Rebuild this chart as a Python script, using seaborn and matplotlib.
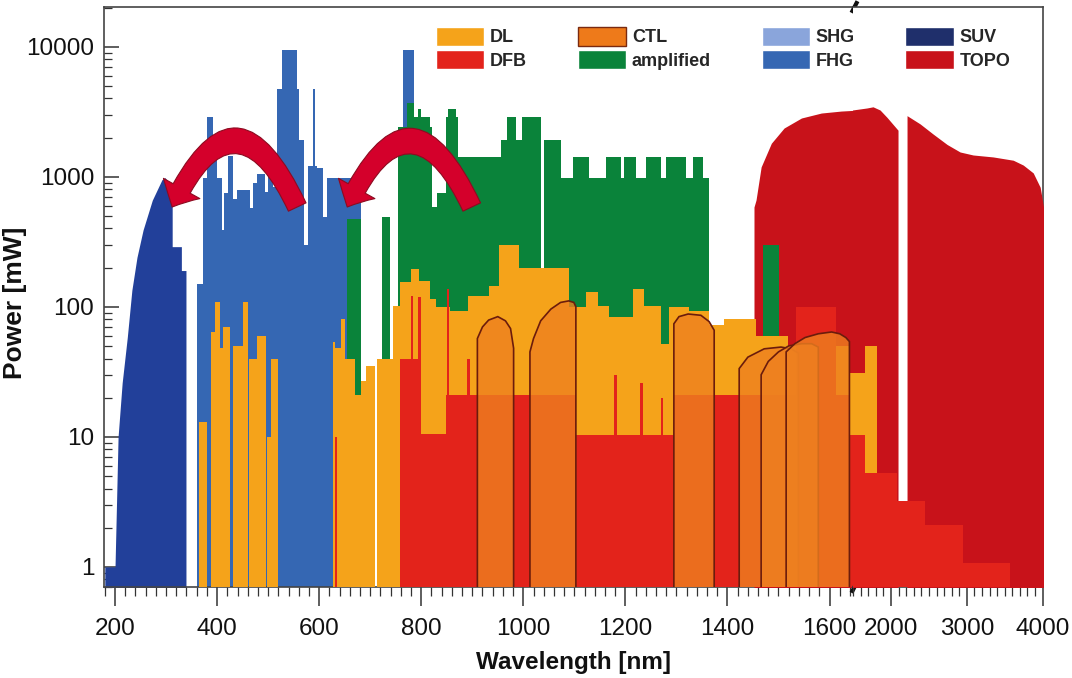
import numpy as np
import matplotlib
matplotlib.use('Agg')
import matplotlib.pyplot as plt
import seaborn as sns
from matplotlib.patches import Patch, FancyArrowPatch
from matplotlib.ticker import FixedLocator, MultipleLocator, NullFormatter, LogLocator, FuncFormatter

sns.set_theme(style='white')
plt.rcParams['font.family'] = ['Liberation Sans', 'DejaVu Sans']

colors = {'DL': '#f5a31a', 'DFB': '#e3231b', 'CTL': '#ee8020', 'amplified': '#0a833a',
          'SHG': '#8aa5db', 'FHG': '#3567b3', 'SUV': '#22409a', 'TOPO': '#c8121a'}
BASE = 0.3  # floor below the visible range

# ---------- left part of the wavelength axis (nm, mW) ----------
suv_wl = [180, 200, 206, 214, 224, 233, 243, 255, 273, 292, 298, 305, 312, 312, 330, 330, 339]
suv_mw = [1.0, 1.0, 10, 26, 58, 134, 240, 390, 660, 950, 985, 900, 690, 290, 290, 190, 190]

fhg_edges = [361, 373, 381, 392, 400, 410, 414, 422, 432, 439, 465, 471, 479, 494, 500,
             510, 518, 528, 557, 561, 571, 579, 587, 591, 596, 608, 616, 681, 765, 785]
fhg_mw = [150, 980, 2900, 1450, 980, 390, 750, 1450, 680, 790, 580, 900, 1050, 760,
          1170, 830, 4700, 9500, 4700, 1900, 300, 1200, 4700, 1200, 1170, 490, 980, 0, 9500]

amp_edges = [655, 681, 724, 738, 755, 773, 785, 793, 799, 818, 822, 830, 848, 853, 869,
             873, 956, 969, 985, 997, 1034, 1040, 1073, 1097, 1128, 1162, 1191, 1197,
             1221, 1240, 1270, 1280, 1319, 1332, 1352, 1364, 1470, 1501]
amp_mw = [470, 0, 490, 0, 2400, 3700, 2900, 3300, 2900, 2400, 590, 750, 2900, 3300, 2900,
          1430, 1900, 2900, 1900, 2900, 0, 1900, 980, 1430, 980, 1430, 980, 1430, 980,
          1430, 980, 1430, 980, 1430, 980, 0, 300]

dl_edges = [364, 380, 388, 396, 406, 412, 426, 432, 451, 461, 463, 479, 496, 498, 506,
            520, 628, 632, 642, 651, 671, 681, 691, 710, 714, 744, 759, 779, 795, 818,
            828, 857, 891, 932, 952, 991, 1089, 1122, 1146, 1168, 1215, 1236, 1270,
            1285, 1325, 1364, 1393, 1456, 1519, 1639, 1660]
dl_mw = [13, 0, 64, 108, 48, 70, 0, 50, 108, 0, 40, 60, 0, 10, 40, 0, 54, 48, 81, 40,
         21, 27, 35, 0, 40, 102, 155, 195, 158, 115, 100, 93, 120, 145, 300, 200, 100,
         130, 102, 84, 137, 102, 52, 100, 92, 72, 81, 60, 50, 31]

dfb_edges = [631, 634, 759, 779, 784, 793, 799, 848, 850, 855, 890, 896, 1103, 1177,
             1183, 1228, 1234, 1270, 1274, 1295, 1535, 1613, 1639, 1660]
dfb_mw = [10, 0, 40, 121, 40, 119, 10.6, 20.8, 137, 20.8, 40, 20.8, 10.3, 30, 10.3, 26,
          10.3, 20, 10.3, 20.8, 100, 20.8, 10.3]

topo_wl = [1452, 1456, 1466, 1486, 1511, 1545, 1584, 1623, 1660]
topo_mw = [585, 662, 1190, 1810, 2370, 2830, 3090, 3200, 3260]

ctl_wl = [[910, 920, 932, 950, 965, 975, 981],
          [1013, 1020, 1034, 1054, 1073, 1089, 1099, 1103],
          [1295, 1305, 1323, 1348, 1364, 1374],
          [1423, 1440, 1472, 1505, 1525, 1539],
          [1466, 1480, 1500, 1520, 1545, 1565, 1578],
          [1515, 1532, 1552, 1578, 1604, 1620, 1632, 1639]]
ctl_mw = [[57, 70, 79, 84, 78, 68, 48],
          [45, 57, 78, 96, 108, 111, 108, 100],
          [74, 84, 88, 86, 77, 66],
          [33.5, 41, 47.5, 49, 47.5, 44],
          [30, 38, 45, 50, 52, 52, 49],
          [45, 52, 58, 62, 64, 62, 58, 54]]

# ---------- right part of the wavelength axis ----------
topo_r_wl = [1490, 1683, 1762, 1855, 1947, 2092]
topo_r_mw = [3260, 3380, 3450, 3260, 2860, 2280]
topo_r2_wl = [2211, 2383, 2555, 2740, 2911, 3083, 3347, 3612, 3744, 3876, 3968, 4012]
topo_r2_mw = [2950, 2550, 2130, 1770, 1550, 1470, 1420, 1340, 1230, 1070, 830, 585]
dl_r_edges = [1490, 1657, 1815]
dl_r_mw = [31, 50]
dfb_r_edges = [1490, 1657, 2079, 2449, 2951, 3572]
dfb_r_mw = [10.3, 5.25, 3.2, 2.1, 1.07]

# arrows (tail, tip) in nm / mW
arrows = [((557, 585), (312, 585)), ((899, 585), (655, 585))]


def steps(ax, edges, levels, color, z):
    lv = np.asarray(levels, dtype=float)
    lv = np.where(lv > 0, lv, BASE)
    ax.stairs(lv, edges, baseline=BASE, fill=True, color=color, lw=0, zorder=z)


def curve(ax, wl, mw, color, z):
    ax.fill_between(wl, mw, BASE, color=color, lw=0, zorder=z)


fig = plt.figure(figsize=(10.72, 6.78), dpi=100)
ax1 = fig.add_axes([104 / 1072, 1 - 587 / 678, (853 - 104) / 1072, 580 / 678])
ax2 = fig.add_axes([853 / 1072, 1 - 587 / 678, (1043 - 853) / 1072, 580 / 678], sharey=ax1)

# left part
curve(ax1, suv_wl, suv_mw, colors['SUV'], 1)
steps(ax1, fhg_edges, fhg_mw, colors['FHG'], 2)
curve(ax1, topo_wl, topo_mw, colors['TOPO'], 3)
steps(ax1, amp_edges, amp_mw, colors['amplified'], 4)
steps(ax1, dl_edges, dl_mw, colors['DL'], 5)
steps(ax1, dfb_edges, dfb_mw, colors['DFB'], 6)
ctl_face = matplotlib.colors.to_rgba(colors['CTL'], 0.8)
for wl, mw in zip(ctl_wl, ctl_mw):
    ax1.fill([wl[0]] + wl + [wl[-1]], [BASE] + mw + [BASE], fc=ctl_face,
             ec='#6b1c0c', lw=1.2, zorder=7)

# right part
curve(ax2, topo_r_wl, topo_r_mw, colors['TOPO'], 3)
curve(ax2, topo_r2_wl, topo_r2_mw, colors['TOPO'], 3)
steps(ax2, dl_r_edges, dl_r_mw, colors['DL'], 5)
steps(ax2, dfb_r_edges, dfb_r_mw, colors['DFB'], 6)

# curved arrows
for tail, tip in arrows:
    arr = FancyArrowPatch(tail, tip, connectionstyle='arc3,rad=1.06',
                          arrowstyle='simple,head_length=1.5,head_width=3.0,tail_width=1.4',
                          mutation_scale=10, fc='#d4002b', ec='#8c0b20', lw=0.8,
                          shrinkA=0, shrinkB=0, zorder=9)
    ax1.add_patch(arr)

# axes
ax1.set_yscale('log')
ax1.set_ylim(0.70, 20200)
ax1.set_xlim(178.4, 1646)
ax2.set_xlim(1498, 4005)

ax1.yaxis.set_major_locator(FixedLocator([1, 10, 100, 1000, 10000]))
ax1.yaxis.set_major_formatter(FuncFormatter(lambda v, p: '%g' % v))
ax1.yaxis.set_minor_locator(LogLocator(base=10, subs=np.arange(2, 10)))
ax1.yaxis.set_minor_formatter(NullFormatter())

ax1.set_xticks([200, 400, 600, 800, 1000, 1200, 1400, 1600])
ax1.xaxis.set_minor_locator(MultipleLocator(20))
ax2.set_xticks([2000, 3000, 4000])
ax2.xaxis.set_minor_locator(MultipleLocator(100))

for ax in (ax1, ax2):
    ax.tick_params(axis='x', which='major', direction='out', length=13.5, width=1.1,
                   labelsize=17.5, pad=9, colors='#333333', labelcolor='#111111', bottom=True)
    ax.tick_params(axis='x', which='minor', direction='out', length=6.5, width=0.9,
                   colors='#333333', bottom=True)
    for s in ax.spines.values():
        s.set_color('#444444')
        s.set_linewidth(1.2)
    ax.set_facecolor('white')

ax1.tick_params(axis='y', which='major', direction='in', length=11, width=1.1,
                labelsize=17.5, pad=7, colors='#333333', labelcolor='#111111', left=True)
ax1.tick_params(axis='y', which='minor', direction='in', length=6, width=0.9,
                colors='#333333', left=True)
ax2.tick_params(axis='y', which='both', left=False, right=False, labelleft=False)
ax1.spines['right'].set_visible(False)
ax2.spines['left'].set_visible(False)

# break marks
for yy in (0, 1):
    ax1.plot([0.998, 1.006], [yy - 0.01, yy + 0.01], color='#111111', lw=3,
             transform=ax1.transAxes, clip_on=False, zorder=20, solid_capstyle='butt')

ax1.set_ylabel('Power [mW]', fontsize=19, fontweight='bold', color='#111111')
ax1.yaxis.set_label_coords(-0.103, 0.49)
fig.text(573 / 1072, 1 - 662 / 678, 'Wavelength [nm]', ha='center', va='center',
         fontsize=17.5, fontweight='bold', color='#111111')

# legend
handles = [Patch(fc=colors['DL'], label='DL'),
           Patch(fc=colors['DFB'], label='DFB'),
           Patch(fc='#ee7a1a', ec='#7a2a10', lw=1, label='CTL'),
           Patch(fc=colors['amplified'], label='amplified'),
           Patch(fc=colors['SHG'], label='SHG'),
           Patch(fc=colors['FHG'], label='FHG'),
           Patch(fc='#1f2f6b', label='SUV'),
           Patch(fc=colors['TOPO'], label='TOPO')]
fig.legend(handles=handles, loc='upper left', bbox_to_anchor=(436 / 1072, 1 - 27 / 678),
           ncol=4, frameon=False, prop={'weight': 'bold', 'size': 13},
           handlelength=2.67, handleheight=1.22, labelspacing=0.22, handletextpad=0.33,
           columnspacing=2.8, borderpad=0, borderaxespad=0)

fig.savefig('out.png', dpi=100)
